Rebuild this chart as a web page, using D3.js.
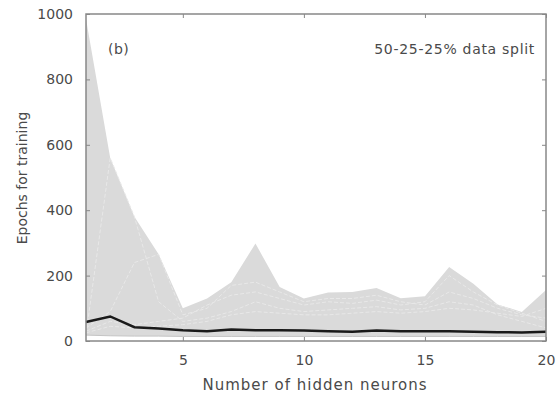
<!DOCTYPE html>
<html>
<head>
<meta charset="utf-8">
<script src="https://cdn.jsdelivr.net/npm/d3@7"></script>
<style>
  body { margin: 0; background: #fff; }
  text { font-family: "DejaVu Sans", sans-serif; fill: #4a4a4a; }
</style>
</head>
<body>
<div id="chart"></div>
<script>
// hidden neurons 1..20
let neurons = d3.range(1, 21);

// envelope of all training runs
let upper = [985, 560, 380, 265, 100, 130, 180, 298, 165, 130, 148, 150, 162, 131, 137, 226, 175, 112, 89, 156];
let lower = [18, 16, 15, 15, 14, 14, 14, 14, 14, 14, 14, 14, 14, 14, 14, 14, 14, 14, 14, 14];

// a few individual runs (lighter lines inside the band)
let run1 = [20, 560, 380, 120, 60, 70, 90, 120, 100, 90, 95, 100, 105, 95, 100, 120, 110, 80, 60, 40];
let run2 = [40, 90, 240, 265, 80, 100, 170, 180, 150, 120, 130, 130, 140, 120, 110, 150, 130, 100, 80, 70];
let run3 = [30, 60, 50, 60, 70, 110, 140, 150, 130, 110, 120, 115, 125, 110, 120, 200, 150, 110, 85, 60];
let run4 = [25, 45, 40, 45, 50, 60, 80, 90, 85, 80, 80, 85, 90, 85, 90, 100, 95, 85, 75, 100];

// mean epochs
let mean = [58, 75, 42, 38, 33, 30, 35, 33, 33, 32, 30, 28, 32, 30, 30, 30, 28, 27, 26, 28];

let yTicks = [0, 200, 400, 600, 800, 1000];
let xTicks = [5, 10, 15, 20];

let width = 559, height = 398;
let margin = {top: 14, right: 13, bottom: 57, left: 86};

let svg = d3.select("#chart").append("svg")
    .attr("width", width)
    .attr("height", height);

let x = d3.scaleLinear().domain([1, 20]).range([margin.left, width - margin.right]);
let y = d3.scaleLinear().domain([0, 1000]).range([height - margin.bottom, margin.top]);

// band
let area = d3.area()
    .x((d, i) => x(neurons[i]))
    .y0((d, i) => y(lower[i]))
    .y1(d => y(d));

svg.append("path")
    .datum(upper)
    .attr("d", area)
    .attr("fill", "#dadada");

// inner run lines
let line = d3.line()
    .x((d, i) => x(neurons[i]))
    .y(d => y(d));

[run1, run2, run3, run4].forEach(r => {
    svg.append("path")
        .datum(r)
        .attr("d", line)
        .attr("fill", "none")
        .attr("stroke", "#e8e8e8")
        .attr("stroke-width", 1)
        .attr("stroke-dasharray", "4,2");
});

svg.append("path")
    .datum(lower)
    .attr("d", line)
    .attr("fill", "none")
    .attr("stroke", "#c4c4c4")
    .attr("stroke-width", 1);

// mean line
svg.append("path")
    .datum(mean)
    .attr("d", line)
    .attr("fill", "none")
    .attr("stroke", "#1a1a1a")
    .attr("stroke-width", 2.5);

// axes frame
svg.append("rect")
    .attr("x", x(1))
    .attr("y", y(1000))
    .attr("width", x(20) - x(1))
    .attr("height", y(0) - y(1000))
    .attr("fill", "none")
    .attr("stroke", "#888")
    .attr("stroke-width", 1.5);

let yAxis = d3.axisLeft(y).tickValues(yTicks).tickSize(-4).tickPadding(13).tickFormat(d3.format("d"));
let gy = svg.append("g").attr("transform", "translate(" + x(1) + ",0)").call(yAxis);
gy.select(".domain").remove();
gy.selectAll("line").attr("stroke", "#888");
gy.selectAll("text").attr("font-size", 14).style("fill", "#4a4a4a");

let gyR = svg.append("g").attr("transform", "translate(" + x(20) + ",0)")
    .call(d3.axisRight(y).tickValues(yTicks).tickSize(-4).tickFormat(""));
gyR.select(".domain").remove();
gyR.selectAll("line").attr("stroke", "#888");

let xAxis = d3.axisBottom(x).tickValues(xTicks).tickSize(-4).tickPadding(14);
let gx = svg.append("g").attr("transform", "translate(0," + y(0) + ")").call(xAxis);
gx.select(".domain").remove();
gx.selectAll("line").attr("stroke", "#888");
gx.selectAll("text").attr("font-size", 14).style("fill", "#4a4a4a");

let gxT = svg.append("g").attr("transform", "translate(0," + y(1000) + ")")
    .call(d3.axisTop(x).tickValues(xTicks).tickSize(-4).tickFormat(""));
gxT.select(".domain").remove();
gxT.selectAll("line").attr("stroke", "#888");

// labels
svg.append("text")
    .attr("x", 315)
    .attr("y", 390)
    .attr("text-anchor", "middle")
    .attr("font-size", 15)
    .attr("letter-spacing", 1)
    .text("Number of hidden neurons");

svg.append("text")
    .attr("transform", "translate(27,178) rotate(-90)")
    .attr("text-anchor", "middle")
    .attr("font-size", 14)
    .text("Epochs for training");

svg.append("text")
    .attr("x", 108)
    .attr("y", 54)
    .attr("font-size", 14)
    .attr("letter-spacing", 0.5)
    .text("(b)");

svg.append("text")
    .attr("x", 535)
    .attr("y", 54)
    .attr("text-anchor", "end")
    .attr("font-size", 14)
    .attr("letter-spacing", 0.7)
    .text("50-25-25% data split");
</script>
</body>
</html>
